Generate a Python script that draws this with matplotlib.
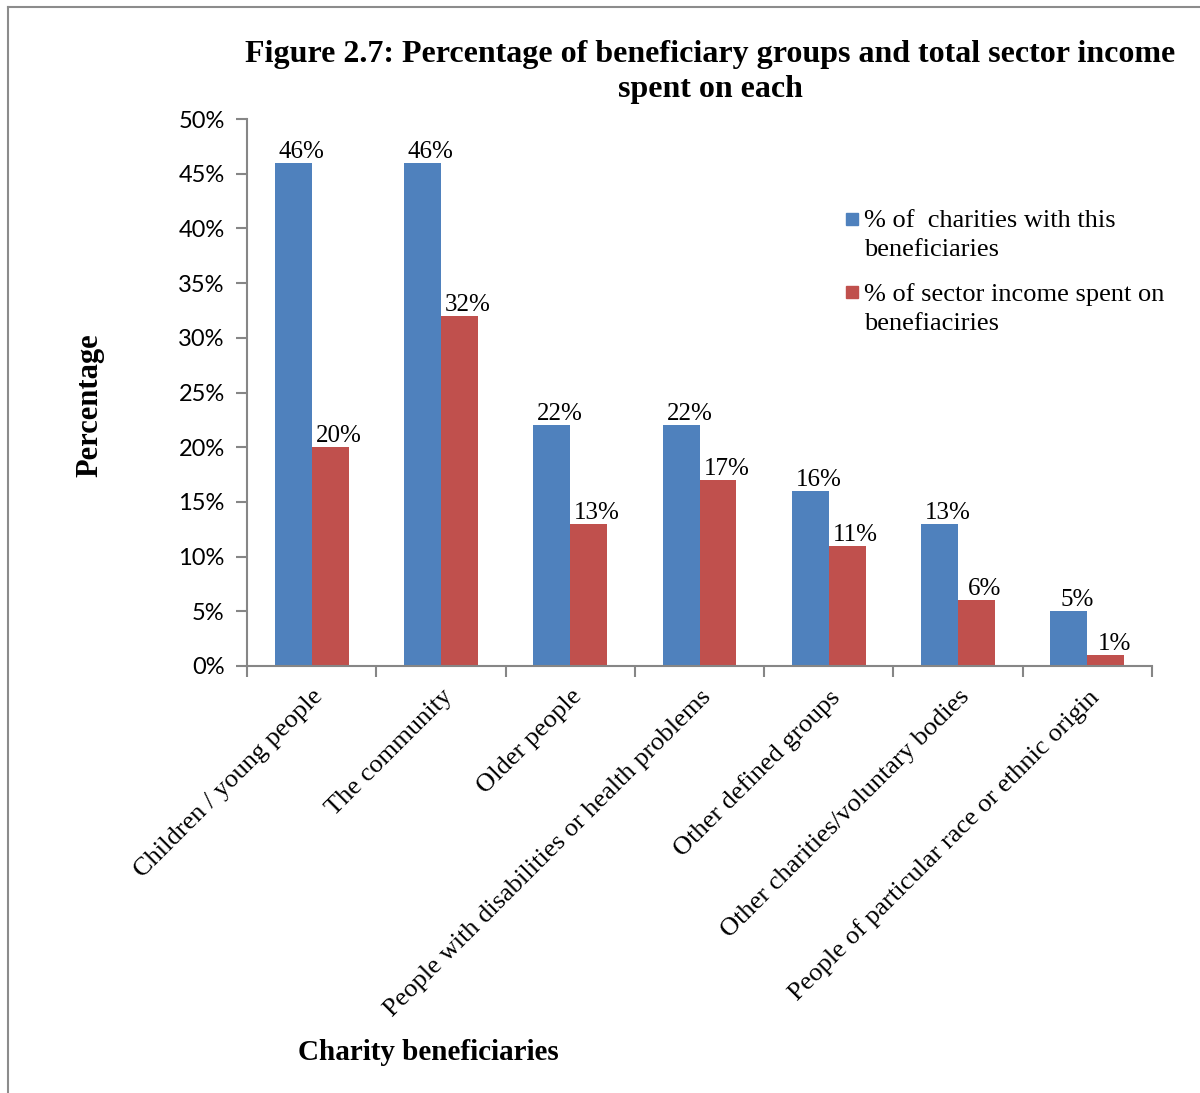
import numpy as np
import matplotlib.pyplot as plt
from matplotlib.patches import Rectangle
from matplotlib.lines import Line2D
from matplotlib.ticker import FuncFormatter

categories = ["Children / young people", "The community", "Older people",
              "People with disabilities or health problems", "Other defined groups",
              "Other charities/voluntary bodies", "People of particular race or ethnic origin"]
charities_pct = [46, 46, 22, 22, 16, 13, 5]
income_pct = [20, 32, 13, 17, 11, 6, 1]
series_names = ["% of  charities with this\nbeneficiaries",
                "% of sector income spent on\nbenefiaciries"]
colors = ["#4F81BD", "#C0504D"]

serif = "Liberation Serif"
sans = "Lato"

fig = plt.figure(figsize=(12, 10.93), dpi=100)
ax = fig.add_axes([247 / 1200, 1 - 666 / 1093, 905 / 1200, 547 / 1093])

x = np.arange(len(categories))
w = 0.286
b1 = ax.bar(x - w / 2, charities_pct, w, color=colors[0])
b2 = ax.bar(x + w / 2, income_pct, w, color=colors[1])

# value labels above every bar
for bars, vals in ((b1, charities_pct), (b2, income_pct)):
    for rect, v in zip(bars, vals):
        ax.annotate(f"{v}%", (rect.get_x() + rect.get_width() / 2, v),
                    xytext=(6, 0), textcoords="offset points",
                    ha="center", va="bottom", fontsize=18, family=serif)

ax.set_xlim(-0.5, len(categories) - 0.5)
ax.set_ylim(0, 50)
ax.set_yticks(np.arange(0, 51, 5))
ax.yaxis.set_major_formatter(FuncFormatter(lambda v, p: f"{int(v)}%"))
for lab in ax.get_yticklabels():
    lab.set_family(sans)
    lab.set_fontsize(17)

# category ticks sit on the boundaries between groups
ax.set_xticks(np.arange(-0.5, len(categories), 1))
ax.set_xticklabels([])
ax.set_xticks(x, minor=True)
ax.set_xticklabels(categories, minor=True, rotation=45, ha="right",
                   rotation_mode="anchor", fontsize=19, family=serif)
ax.tick_params(axis="x", which="minor", length=0, pad=14)
ax.tick_params(axis="x", which="major", length=8, width=1.5, color="#868686")
ax.tick_params(axis="y", length=8, width=1.5, color="#868686", pad=8)

for s in ("top", "right"):
    ax.spines[s].set_visible(False)
for s in ("left", "bottom"):
    ax.spines[s].set_color("#868686")
    ax.spines[s].set_linewidth(1.5)

fig.text(710 / 1200, 1 - 72 / 1093,
         "Figure 2.7: Percentage of beneficiary groups and total sector income\nspent on each",
         ha="center", va="center", fontsize=23, fontweight="bold", family=serif,
         linespacing=1.3)
fig.text(90 / 1200, 1 - 405 / 1093, "Percentage", rotation=90, ha="center", va="center",
         fontsize=22, fontweight="bold", family=serif)
fig.text(428 / 1200, 1 - 1053 / 1093, "Charity beneficiaries", ha="center", va="center",
         fontsize=21, fontweight="bold", family=serif)

# legend, squares aligned with the first line of each entry
for i, (name, c) in enumerate(zip(series_names, colors)):
    top = 213 + i * 73
    fig.add_artist(Rectangle((846 / 1200, 1 - (top + 12) / 1093), 12 / 1200, 12 / 1093,
                             transform=fig.transFigure, color=c))
    fig.text(864 / 1200, 1 - (top - 3) / 1093, name, ha="left", va="top",
             fontsize=19, family=serif, linespacing=1.4)

# outer frame
fig.add_artist(Line2D([8 / 1200, 8 / 1200], [0, 1 - 7 / 1093],
                      transform=fig.transFigure, color="#8c8c8c", lw=1.5))
fig.add_artist(Line2D([8 / 1200, 1], [1 - 7 / 1093, 1 - 7 / 1093],
                      transform=fig.transFigure, color="#8c8c8c", lw=1.5))

fig.savefig("out.png", dpi=100)
